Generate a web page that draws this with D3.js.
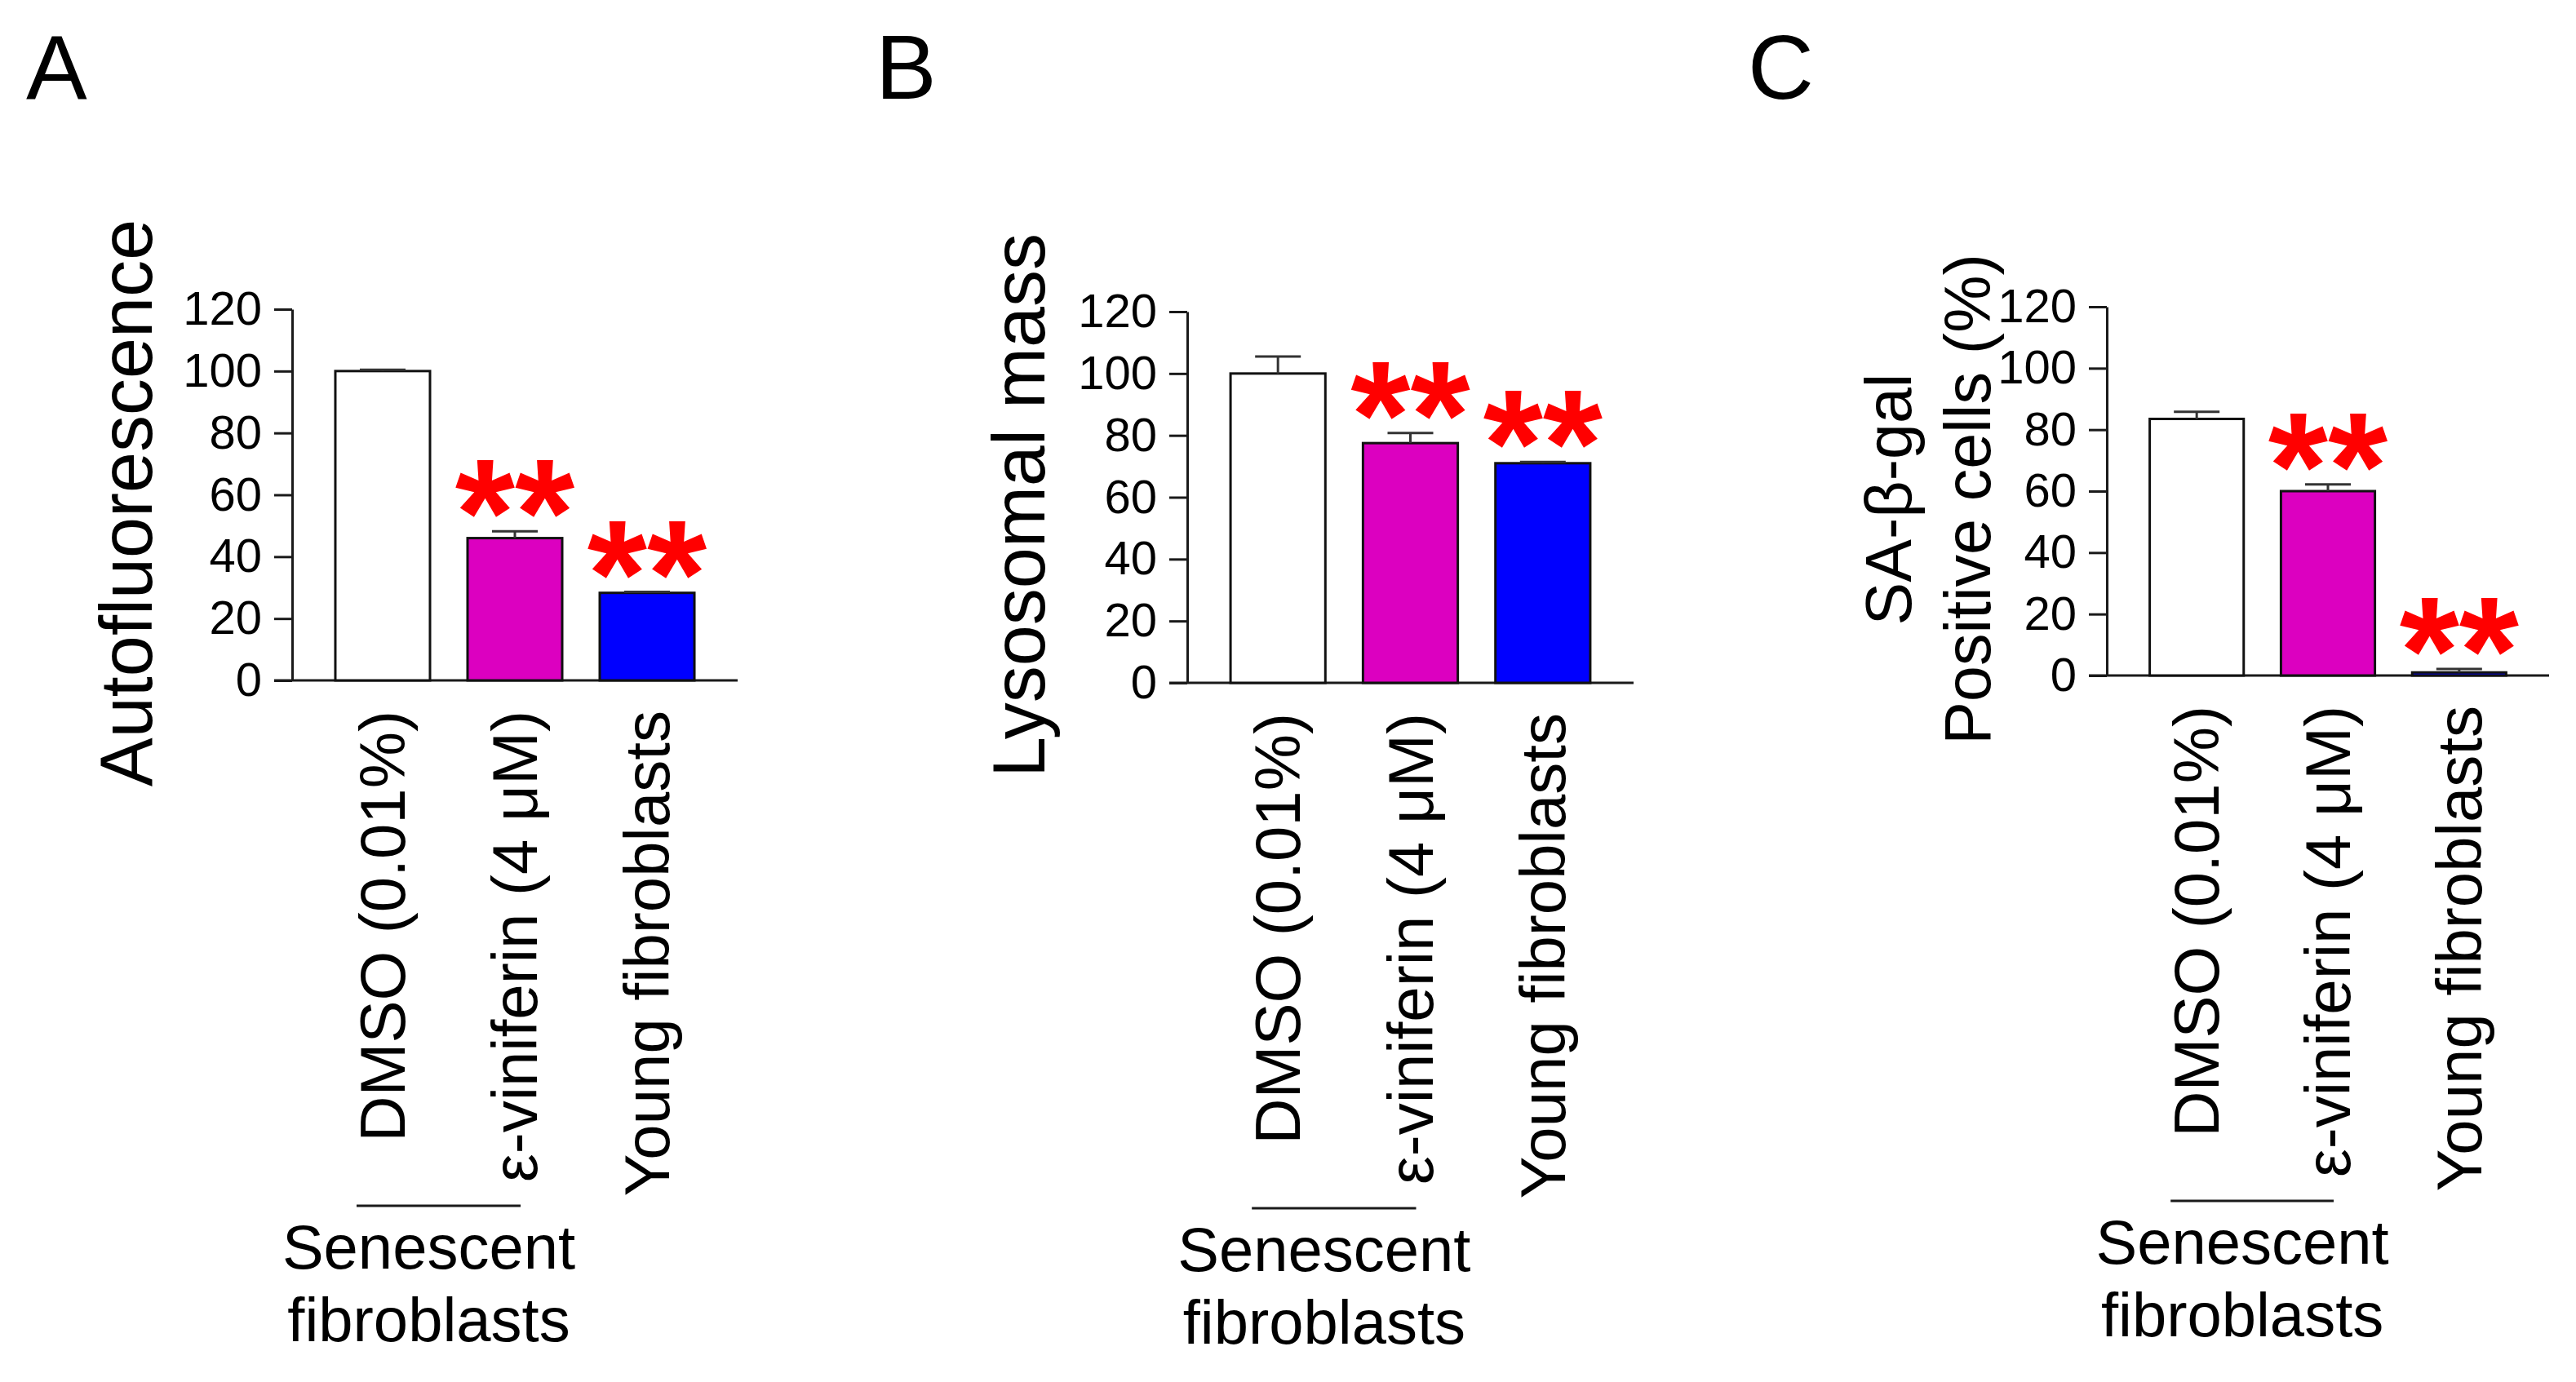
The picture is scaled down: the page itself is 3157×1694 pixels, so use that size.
<!DOCTYPE html>
<html>
<head>
<meta charset="utf-8">
<script src="https://cdn.jsdelivr.net/npm/d3@7"></script>
<style>
	body { margin: 0; background: #fff; }
	text { font-family: "Liberation Sans", Arial, sans-serif; }
</style>
</head>
<body>
<div id="theChart"></div>
<script>
// values (mean, SEM)
const categories = ["DMSO (0.01%)", "ε-viniferin (4 μM)", "Young fibroblasts"]
const barColors = ["#ffffff", "#dc00c0", "#0000ff"]
const yTicks = [0, 20, 40, 60, 80, 100, 120]
const significance = ["", "**", "**"]
const groupLabel = ["Senescent", "fibroblasts"]

const autofluorescenceMean = [100, 46, 28.3]
const autofluorescenceSem = [0.4, 2.2, 0.3]
const lysosomalMean = [100, 77.5, 71]
const lysosomalSem = [5.5, 3.3, 0.4]
const saGalMean = [83.5, 60, 1.0]
const saGalSem = [2.3, 2.2, 1.1]

const panelLetters = ["A", "B", "C"]
const yTitles = [["Autofluorescence"], ["Lysosomal mass"], ["SA-β-gal", "Positive cells (%)"]]

const w = 3157
const h = 1694

// layout of each panel
const panels = [
	{ mean: autofluorescenceMean, sem: autofluorescenceSem, left: 358, right: 904, top: 379, bottom: 834, letterX: 32, titleX: 186, titleSize: 90 },
	{ mean: lysosomalMean, sem: lysosomalSem, left: 1455, right: 2002, top: 382, bottom: 837, letterX: 1073, titleX: 1280, titleSize: 90 },
	{ mean: saGalMean, sem: saGalSem, left: 2582, right: 3124, top: 376, bottom: 828, letterX: 2142, titleX: 2342, titleSize: 79 },
]

const svg = d3
	.select("#theChart")
	.append("svg")
	.attr("width", w)
	.attr("height", h)
	.style("background", "#fff")

panels.forEach((p, k) => {
	const g = svg.append("g")

	const y = d3.scaleLinear().domain([0, 120]).range([p.bottom, p.top])
	const x = d3
		.scaleBand()
		.domain(categories)
		.range([p.left, p.right])
		.paddingInner(0.284)
		.paddingOuter(0.327)
	const bw = x.bandwidth()

	// panel letter
	g.append("text")
		.attr("x", p.letterX)
		.attr("y", 121)
		.attr("font-size", 112)
		.text(panelLetters[k])

	// y axis
	const yAxis = g
		.append("g")
		.attr("transform", `translate(${p.left},0)`)
		.call(
			d3.axisLeft(y)
				.tickValues(yTicks)
				.tickSize(22)
				.tickSizeOuter(0)
				.tickPadding(15),
		)
	yAxis.attr("font-family", null).attr("font-size", null)
	yAxis.select(".domain").attr("stroke", "#1a1a1a").attr("stroke-width", 3)
	yAxis.selectAll(".tick line").attr("stroke", "#1a1a1a").attr("stroke-width", 3)
	yAxis.selectAll(".tick text").attr("font-size", 58).attr("fill", "#000")

	// x baseline
	g.append("line")
		.attr("x1", p.left - 22)
		.attr("x2", p.right)
		.attr("y1", y(0))
		.attr("y2", y(0))
		.attr("stroke", "#1a1a1a")
		.attr("stroke-width", 3)

	// y title (rotated)
	const midY = (p.top + p.bottom) / 2 + 10
	yTitles[k].forEach((line, i) => {
		g.append("text")
			.attr("transform", `translate(${p.titleX + i * 97},${midY}) rotate(-90)`)
			.attr("text-anchor", "middle")
			.attr("font-size", p.titleSize)
			.text(line)
	})

	const rows = categories.map((c, i) => ({
		cat: c,
		mean: p.mean[i],
		sem: p.sem[i],
		color: barColors[i],
		sig: significance[i],
	}))

	// bars
	g.selectAll("rect.bar")
		.data(rows)
		.enter()
		.append("rect")
		.attr("class", "bar")
		.attr("x", d => x(d.cat))
		.attr("y", d => y(d.mean))
		.attr("width", bw)
		.attr("height", d => y(0) - y(d.mean))
		.attr("fill", d => d.color)
		.attr("stroke", "#111")
		.attr("stroke-width", 3)

	// error bars (upper only)
	const err = g.selectAll("g.err").data(rows).enter().append("g").attr("class", "err")
	err.append("line")
		.attr("x1", d => x(d.cat) + bw / 2)
		.attr("x2", d => x(d.cat) + bw / 2)
		.attr("y1", d => y(d.mean))
		.attr("y2", d => y(d.mean + d.sem))
		.attr("stroke", "#333")
		.attr("stroke-width", 3)
	err.append("line")
		.attr("x1", d => x(d.cat) + bw / 2 - 28)
		.attr("x2", d => x(d.cat) + bw / 2 + 28)
		.attr("y1", d => y(d.mean + d.sem))
		.attr("y2", d => y(d.mean + d.sem))
		.attr("stroke", "#333")
		.attr("stroke-width", 3)

	// significance stars
	g.selectAll("text.sig")
		.data(rows.filter(d => d.sig))
		.enter()
		.append("text")
		.attr("class", "sig")
		.attr("x", d => x(d.cat) + bw / 2)
		.attr("y", d => y(d.mean + d.sem) + 42)
		.attr("text-anchor", "middle")
		.attr("font-size", 188)
		.attr("font-weight", "bold")
		.attr("fill", "#ff0000")
		.text(d => d.sig)

	// category labels
	g.selectAll("text.cat")
		.data(categories)
		.enter()
		.append("text")
		.attr("class", "cat")
		.attr("transform", d => `translate(${x(d) + bw / 2},${y(0) + 37}) rotate(-90)`)
		.attr("text-anchor", "end")
		.attr("dy", "0.35em")
		.attr("font-size", 78)
		.text(d => d)

	// bracket under the senescent groups
	const bx1 = x(categories[0]) + bw / 2 - 32
	const bx2 = x(categories[1]) + bw / 2 + 7
	const by = y(0) + 644
	g.append("line")
		.attr("x1", bx1)
		.attr("x2", bx2)
		.attr("y1", by)
		.attr("y2", by)
		.attr("stroke", "#1a1a1a")
		.attr("stroke-width", 3)

	groupLabel.forEach((line, i) => {
		g.append("text")
			.attr("x", (bx1 + bx2) / 2 - 12)
			.attr("y", by + 77 + i * 89)
			.attr("text-anchor", "middle")
			.attr("font-size", 76)
			.text(line)
	})
})
</script>
</body>
</html>
